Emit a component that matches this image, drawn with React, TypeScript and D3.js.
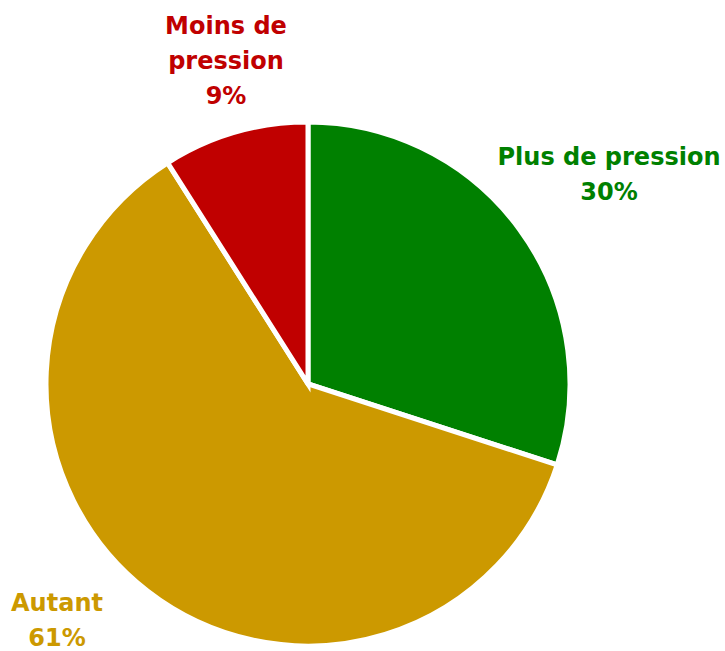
import React from "react";
import * as d3 from "d3";

const categories = ["Plus de pression", "Autant", "Moins de pression"];
const values = [30, 61, 9];
const colors = ["#008000", "#CC9900", "#C00000"];
const labelLines = [["Plus de pression", "30%"], ["Autant", "61%"], ["Moins de", "pression", "9%"]];
const labelPos: [number, number][] = [[609, 165], [57, 611], [226, 34]];

export default function App() {
  const width = 725, height = 651;
  const cx = 308, cy = 384, r = 262;
  const pie = d3.pie<number>().sort(null).value((d) => d);
  const arcs = pie(values);
  const arc = d3.arc<d3.PieArcDatum<number>>().innerRadius(0).outerRadius(r);
  const lineH = 35;
  return (
    <svg width={width} height={height} style={{ position: "absolute", left: 0, top: 0 }}>
      <g transform={`translate(${cx},${cy})`}>
        {arcs.map((a, i) => (
          <path key={categories[i]} d={arc(a) || ""} fill={colors[i]} stroke="#fff" strokeWidth={5} strokeLinejoin="miter" />
        ))}
      </g>
      {labelLines.map((lines, i) => (
        <text key={i} x={labelPos[i][0]} y={labelPos[i][1]} textAnchor="middle" fill={colors[i]}
          style={{ fontFamily: "'DejaVu Sans', sans-serif", fontWeight: "bold", fontSize: 24 }}>
          {lines.map((l, j) => (
            <tspan key={j} x={labelPos[i][0]} y={labelPos[i][1] + j * lineH}>{l}</tspan>
          ))}
        </text>
      ))}
    </svg>
  );
}
